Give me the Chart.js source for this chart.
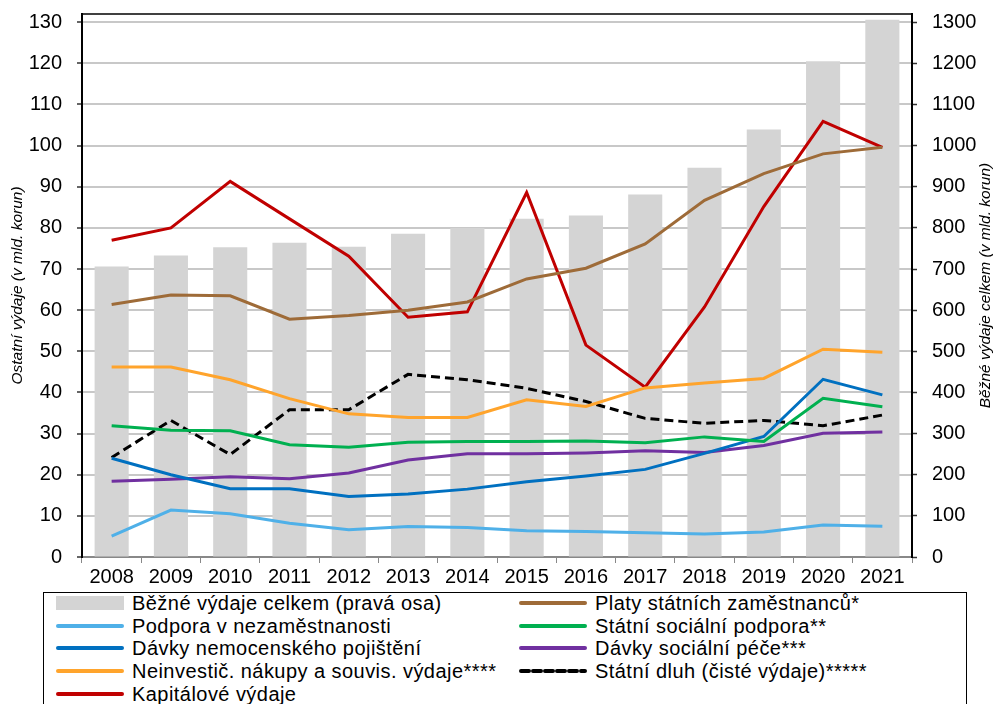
<!DOCTYPE html>
<html>
<head>
<meta charset="utf-8">
<script src="https://cdn.jsdelivr.net/npm/chart.js@4"></script>
<style>
  body { margin: 0; background: #fff; font-family: "Liberation Sans", Arial, sans-serif; }
  #wrap { position: relative; width: 998px; height: 704px; overflow: hidden; }
  #chartBox { position: absolute; left: 0; top: 0; width: 998px; height: 592px; }
  #legendBox { position: absolute; left: 43px; top: 592px; width: 924px; height: 130px; border: 1px solid #000; box-sizing: border-box; }
  .item { position: absolute; font-size: 20px; letter-spacing: 0.45px; line-height: 22px; height: 22px; white-space: nowrap; color: #000; }
  .item svg { position: absolute; top: 4px; }
</style>
</head>
<body>
<div id="wrap">
  <div id="chartBox"><canvas id="canvas"></canvas></div>
  <div id="legendBox"></div>
</div>
<script>
var years = ['2008','2009','2010','2011','2012','2013','2014','2015','2016','2017','2018','2019','2020','2021'];

// pravá osa
var bezneVydaje = [706, 733, 753, 764, 754, 786, 800, 822, 830, 881, 946, 1039, 1205, 1306];

// levá osa
var platy          = [61.4, 63.7, 63.5, 57.8, 58.7, 60.0, 62.0, 67.6, 70.2, 76.1, 86.7, 93.2, 98.0, 99.6];
var podporaNezam   = [5.1, 11.4, 10.5, 8.2, 6.6, 7.4, 7.2, 6.4, 6.2, 5.9, 5.6, 6.1, 7.8, 7.5];
var socPodpora     = [31.9, 30.8, 30.7, 27.3, 26.7, 27.9, 28.1, 28.1, 28.2, 27.8, 29.2, 28.1, 38.6, 36.5];
var davkyNemoc     = [24.0, 20.0, 16.6, 16.6, 14.7, 15.3, 16.5, 18.3, 19.7, 21.3, 25.2, 29.3, 43.2, 39.4];
var davkySocPece   = [18.4, 18.9, 19.5, 19.0, 20.4, 23.6, 25.1, 25.1, 25.3, 25.8, 25.4, 27.1, 30.1, 30.4];
var neinvestic     = [46.2, 46.2, 43.1, 38.5, 34.8, 33.9, 33.9, 38.2, 36.6, 41.1, 42.3, 43.4, 50.5, 49.8];
var statniDluh     = [24.2, 33.2, 24.9, 35.8, 35.8, 44.4, 43.1, 41.0, 37.8, 33.7, 32.5, 33.2, 31.9, 34.5];
var kapitalove     = [77.0, 80.0, 91.3, 82.2, 73.1, 58.3, 59.6, 88.6, 51.5, 41.3, 60.8, 85.2, 105.9, 99.6];

var FONT = '"Liberation Sans", Arial, sans-serif';
var rightTitle = 'Běžné výdaje celkem (v mld. korun)';

function lineSet(label, data, color, dash) {
  return {
    type: 'line',
    label: label,
    data: data,
    yAxisID: 'y',
    borderColor: color,
    backgroundColor: color,
    borderWidth: 3,
    borderDash: dash || [],
    pointRadius: 0,
    tension: 0,
    order: 1
  };
}

var datasets = [
  {
    type: 'bar',
    label: 'Běžné výdaje celkem (pravá osa)',
    data: bezneVydaje,
    yAxisID: 'y1',
    backgroundColor: '#d4d4d4',
    barPercentage: 0.575,
    categoryPercentage: 1,
    order: 10
  },
  lineSet('Platy státních zaměstnanců*', platy, '#9e6b38'),
  lineSet('Podpora v nezaměstnanosti', podporaNezam, '#4fb0e8'),
  lineSet('Státní sociální podpora**', socPodpora, '#00b050'),
  lineSet('Dávky nemocenského pojištění', davkyNemoc, '#0070c0'),
  lineSet('Dávky sociální péče***', davkySocPece, '#7030a0'),
  lineSet('Neinvestič. nákupy a souvis. výdaje****', neinvestic, '#ffa42c'),
  lineSet('Státní dluh (čisté výdaje)*****', statniDluh, '#000000', [9, 5]),
  lineSet('Kapitálové výdaje', kapitalove, '#c00000')
];

// horni okraj grafu + titulek prave osy (cteny zdola nahoru)
var extras = {
  id: 'extras',
  afterDraw: function(chart) {
    var a = chart.chartArea, c = chart.ctx;
    c.save();
    c.strokeStyle = '#000';
    c.lineWidth = 1.5;
    c.beginPath();
    c.moveTo(a.left, a.top);
    c.lineTo(a.right, a.top);
    c.stroke();
    c.translate(986, (a.top + a.bottom) / 2);
    c.rotate(-Math.PI / 2);
    c.fillStyle = '#000';
    c.font = 'italic 15.5px ' + FONT;
    c.textAlign = 'center';
    c.textBaseline = 'middle';
    c.fillText(rightTitle, 0, 0);
    c.restore();
  }
};

window.onload = function() {
  var ctx = document.getElementById('canvas');
  window.myChart = new Chart(ctx, {
    data: { labels: years, datasets: datasets },
    plugins: [extras],
    options: {
      responsive: true,
      maintainAspectRatio: false,
      animation: false,
      layout: { padding: { top: 14, left: 0, right: 0, bottom: 0 } },
      plugins: { legend: { display: false }, tooltip: { enabled: false } },
      scales: {
        x: {
          offset: true,
          afterFit: function(s) { s.height = 35; },
          grid: { offset: true, drawOnChartArea: false, color: '#888', tickLength: 6 },
          border: { color: '#888', width: 2 },
          ticks: { color: '#000', font: { family: FONT, size: 20 }, padding: 2, maxRotation: 0 }
        },
        y: {
          position: 'left',
          min: 0, max: 132,
          afterFit: function(s) { s.width = 82; s.paddingTop = 0; s.paddingBottom = 0; },
          ticks: { stepSize: 10, includeBounds: false, color: '#000', font: { family: FONT, size: 20 }, padding: 15 },
          grid: { color: '#c8c8c8', lineWidth: 2, tickColor: '#333', tickLength: 5, tickWidth: 1.5 },
          border: { color: '#000', width: 2 },
          title: { display: true, text: 'Ostatní výdaje (v mld. korun)', color: '#000',
                   font: { family: FONT, size: 15.5, style: 'italic' }, padding: { top: 8, bottom: 0 } }
        },
        y1: {
          position: 'right',
          min: 0, max: 1320,
          afterFit: function(s) { s.width = 86; s.paddingTop = 0; s.paddingBottom = 0; },
          ticks: { stepSize: 100, includeBounds: false, color: '#000', font: { family: FONT, size: 20 }, padding: 15,
                   callback: function(v) { return String(v); } },
          grid: { drawOnChartArea: false, tickColor: '#333', tickLength: 5, tickWidth: 1.5 },
          border: { color: '#000', width: 2 }
        }
      }
    }
  });

  // legenda ve dvou sloupcich
  var box = document.getElementById('wrap');
  for (var i = 0; i < datasets.length; i++) {
    var ds = datasets[i];
    var col = i % 2, row = Math.floor(i / 2);
    var swX = col == 0 ? 56 : 519;
    var txX = col == 0 ? 132 : 595;
    var cy = 603 + row * 22.7;
    var div = document.createElement('div');
    div.className = 'item';
    div.style.left = swX + 'px';
    div.style.top = (cy - 11) + 'px';
    var sw;
    if (ds.type == 'bar') {
      sw = '<svg width="68" height="14"><rect x="0" y="0" width="68" height="14" fill="' + ds.backgroundColor + '"/></svg>';
    } else {
      var dash = ds.borderDash.length ? ' stroke-dasharray="8,4"' : '';
      sw = '<svg width="68" height="14"><line x1="2" y1="7" x2="66" y2="7" stroke="' + ds.borderColor + '" stroke-width="4" stroke-linecap="round"' + dash + '/></svg>';
    }
    div.innerHTML = sw + '<span style="position:absolute;left:' + (txX - swX) + 'px;top:0">' + ds.label + '</span>';
    box.appendChild(div);
  }
};
</script>
</body>
</html>
